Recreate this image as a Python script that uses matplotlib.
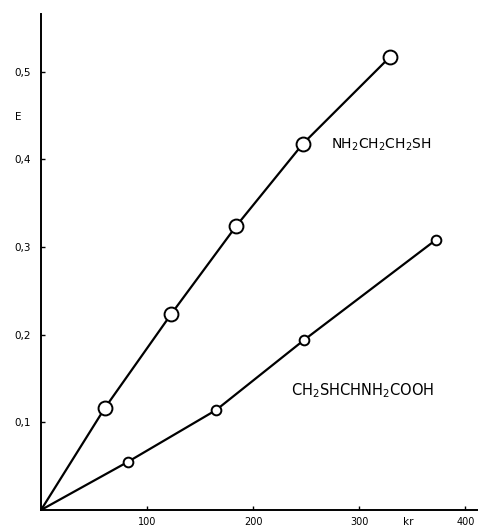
import matplotlib.pyplot as plt

# values
x_cys = [0, 60, 123, 184, 247, 329]
e_cys = [0, 0.116, 0.224, 0.324, 0.418, 0.517]
x_cysteine = [0, 82, 165, 248, 372]
e_cysteine = [0, 0.055, 0.114, 0.194, 0.308]

x_ticks = [100, 200, 300, 400]
y_ticks = [0.1, 0.2, 0.3, 0.4, 0.5]
y_labels = ["0,1", "0,2", "0,3", "0,4", "0,5"]

fig = plt.figure(figsize=(4.78, 5.30), dpi=100)
ax = fig.add_axes([41 / 478, 20 / 530, 437 / 478, 496 / 530])

ax.plot(x_cys, e_cys, color="black", lw=1.6, marker="o", ms=10, mfc="white",
        mec="black", mew=1.4, markevery=range(1, len(x_cys)))
ax.plot(x_cysteine, e_cysteine, color="black", lw=1.6, marker="o", ms=7, mfc="white",
        mec="black", mew=1.4, markevery=range(1, len(x_cysteine)))

ax.set_xlim(0, 412)
ax.set_ylim(0, 0.566)
ax.spines["top"].set_visible(False)
ax.spines["right"].set_visible(False)
ax.spines["left"].set_linewidth(1.4)
ax.spines["bottom"].set_linewidth(1.4)

ax.set_xticks(x_ticks)
ax.set_xticklabels([str(t) for t in x_ticks])
ax.set_yticks(y_ticks)
ax.set_yticklabels(y_labels)
ax.tick_params(direction="in", length=3, width=1)
ax.tick_params(axis="x", labelsize=7, pad=5)
ax.tick_params(axis="y", labelsize=7.5, pad=7)

ax.text(-21, 0.448, "E", fontsize=7.5, ha="center", va="center", clip_on=False)
ax.text(346, -0.014, "kr", fontsize=7.5, ha="center", va="center", clip_on=False)

ax.text(273, 0.417, r"NH$_2$CH$_2$CH$_2$SH", fontsize=10, va="center")
ax.text(236, 0.136, r"CH$_2$SHCHNH$_2$COOH", fontsize=10.5, va="center")

plt.savefig("out.png", dpi=100)
